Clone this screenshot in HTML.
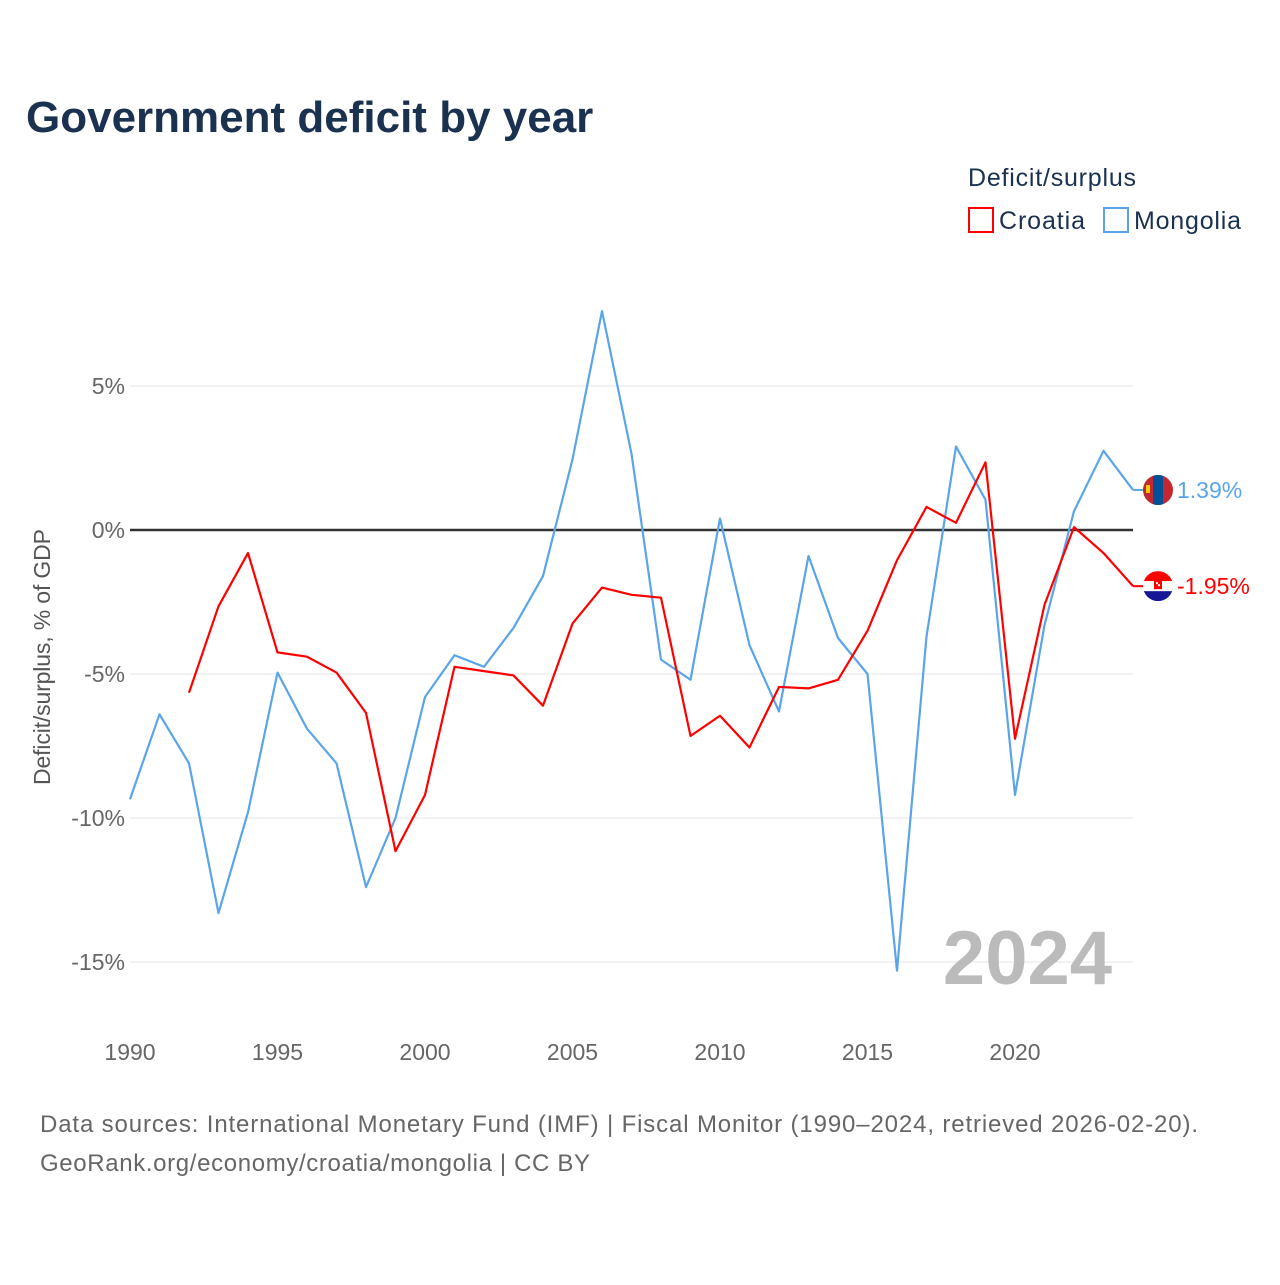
<!DOCTYPE html>
<html><head><meta charset="utf-8"><style>
body{margin:0;background:#fff;font-family:"Liberation Sans",sans-serif}
</style></head><body>
<svg id="chart" width="1280" height="1280" xmlns="http://www.w3.org/2000/svg" font-family="Liberation Sans, sans-serif">
<defs>
<clipPath id="clipM"><circle id="cM" cx="0" cy="0" r="15"/></clipPath>
<clipPath id="clipC"><circle cx="0" cy="0" r="15"/></clipPath>
</defs>
<rect width="1280" height="1280" fill="#fff"/>
<text x="26" y="132" font-size="44" font-weight="bold" fill="#1a3150">Government deficit by year</text>
<text x="968" y="186" font-size="25" fill="#1a3150" textLength="168">Deficit/surplus</text>
<g><rect x="969" y="208" width="24" height="24" fill="none" stroke="#ff0000" stroke-width="2"/><text x="999" y="229" font-size="25" fill="#1a3150" textLength="86">Croatia</text></g>
<g><rect x="1104" y="208" width="24" height="24" fill="none" stroke="#5aa5ea" stroke-width="2"/><text x="1134" y="229" font-size="25" fill="#1a3150" textLength="107">Mongolia</text></g>
<text transform="translate(50,657) rotate(-90)" text-anchor="middle" font-size="23" fill="#555" textLength="256">Deficit/surplus, % of GDP</text>
<g id="grid"></g><g id="lines"></g>
<text x="1112" y="984" text-anchor="end" font-size="76" font-weight="bold" fill="#bbb">2024</text>
<text x="40" y="1132" font-size="24" fill="#666" textLength="1158">Data sources: International Monetary Fund (IMF) | Fiscal Monitor (1990–2024, retrieved 2026-02-20).</text>
<text x="40" y="1171" font-size="24" fill="#666" textLength="550">GeoRank.org/economy/croatia/mongolia | CC BY</text>
</svg>
<script>
const years=[];for(let y=1990;y<=2024;y++)years.push(y);
const mongolia=[-9.35,-6.4,-8.1,-13.3,-9.8,-4.95,-6.9,-8.1,-12.4,-10,-5.8,-4.35,-4.75,-3.4,-1.6,2.45,7.6,2.65,-4.5,-5.2,0.4,-4.0,-6.3,-0.9,-3.75,-5.0,-15.3,-3.7,2.9,1.05,-9.2,-3.3,0.65,2.75,1.39];
const croatia=[null,null,-5.65,-2.65,-0.8,-4.25,-4.4,-4.95,-6.35,-11.15,-9.2,-4.75,-4.9,-5.05,-6.1,-3.25,-2.0,-2.25,-2.35,-7.15,-6.45,-7.55,-5.45,-5.5,-5.2,-3.5,-1.05,0.8,0.25,2.35,-7.25,-2.6,0.1,-0.8,-1.95];
const yTicks=[5,0,-5,-10,-15];
const xTicks=[1990,1995,2000,2005,2010,2015,2020];
const NS='http://www.w3.org/2000/svg';
const X=y=>130+(y-1990)*29.5, Y=v=>530-v*28.8;
function mk(t,a,p){const e=document.createElementNS(NS,t);for(const k in a)e.setAttribute(k,a[k]);p.appendChild(e);return e;}
const g=document.getElementById('grid'),L=document.getElementById('lines');
yTicks.forEach(v=>{
 const l=mk('line',{x1:130,x2:1133,y1:Y(v),y2:Y(v),stroke:v===0?'#333':'#e6e6e6','stroke-width':v===0?2.5:1},g);
 
 
 const t=mk('text',{x:125,y:Y(v)+8,'text-anchor':'end','font-size':23,fill:'#666'},g);
 
 
 t.textContent=v+'%';
});
xTicks.forEach(yr=>{
 const t=mk('text',{x:X(yr),y:1060,'text-anchor':'middle','font-size':23,fill:'#666'},g);
 
 
 t.textContent=yr;
});
function line(vals,col,name,flag){
 let d='';vals.forEach((v,i)=>{if(v==null)return;d+=(d?'L':'M')+X(years[i])+','+Y(v);});
 const p=mk('path',{d:d,fill:'none',stroke:col,'stroke-width':2.2,'stroke-linejoin':'round'},L);
 
 
 const last=vals[vals.length-1];
 mk('line',{x1:X(2024),x2:X(2024)+12,y1:Y(last),y2:Y(last),stroke:col,'stroke-width':2},L);
 const fg=mk('g',{transform:'translate(1158,'+Y(last)+')','clip-path':'url(#'+(flag==='M'?'clipM':'clipC')+')'},L);
 
 
 if(flag==='M'){
  mk('rect',{x:-15,y:-15,width:30,height:30,fill:'#c4272f'},fg);
  mk('rect',{x:-5,y:-15,width:10,height:30,fill:'#015197'},fg);
  mk('rect',{x:-12,y:-5,width:4,height:8,fill:'#f9cf02'},fg);
 } else {
  mk('rect',{x:-15,y:-15,width:30,height:10,fill:'#ff0000'},fg);
  mk('rect',{x:-15,y:-5,width:30,height:10,fill:'#fff'},fg);
  mk('rect',{x:-15,y:5,width:30,height:10,fill:'#171796'},fg);
  mk('rect',{x:-4,y:-6,width:8,height:9,fill:'#ff0000'},fg);
  mk('rect',{x:-2,y:-4,width:2,height:2,fill:'#fff'},fg);
  mk('rect',{x:0,y:-2,width:2,height:2,fill:'#fff'},fg);
 }
 const t=mk('text',{x:1177,y:Y(last)+8,'font-size':23,fill:col},L);
 
 
 t.textContent=last.toFixed(2)+'%';
}
line(mongolia,'#5aa5ea','mongolia','M');
line(croatia,'#ff0000','croatia','C');
</script>
</body></html>
